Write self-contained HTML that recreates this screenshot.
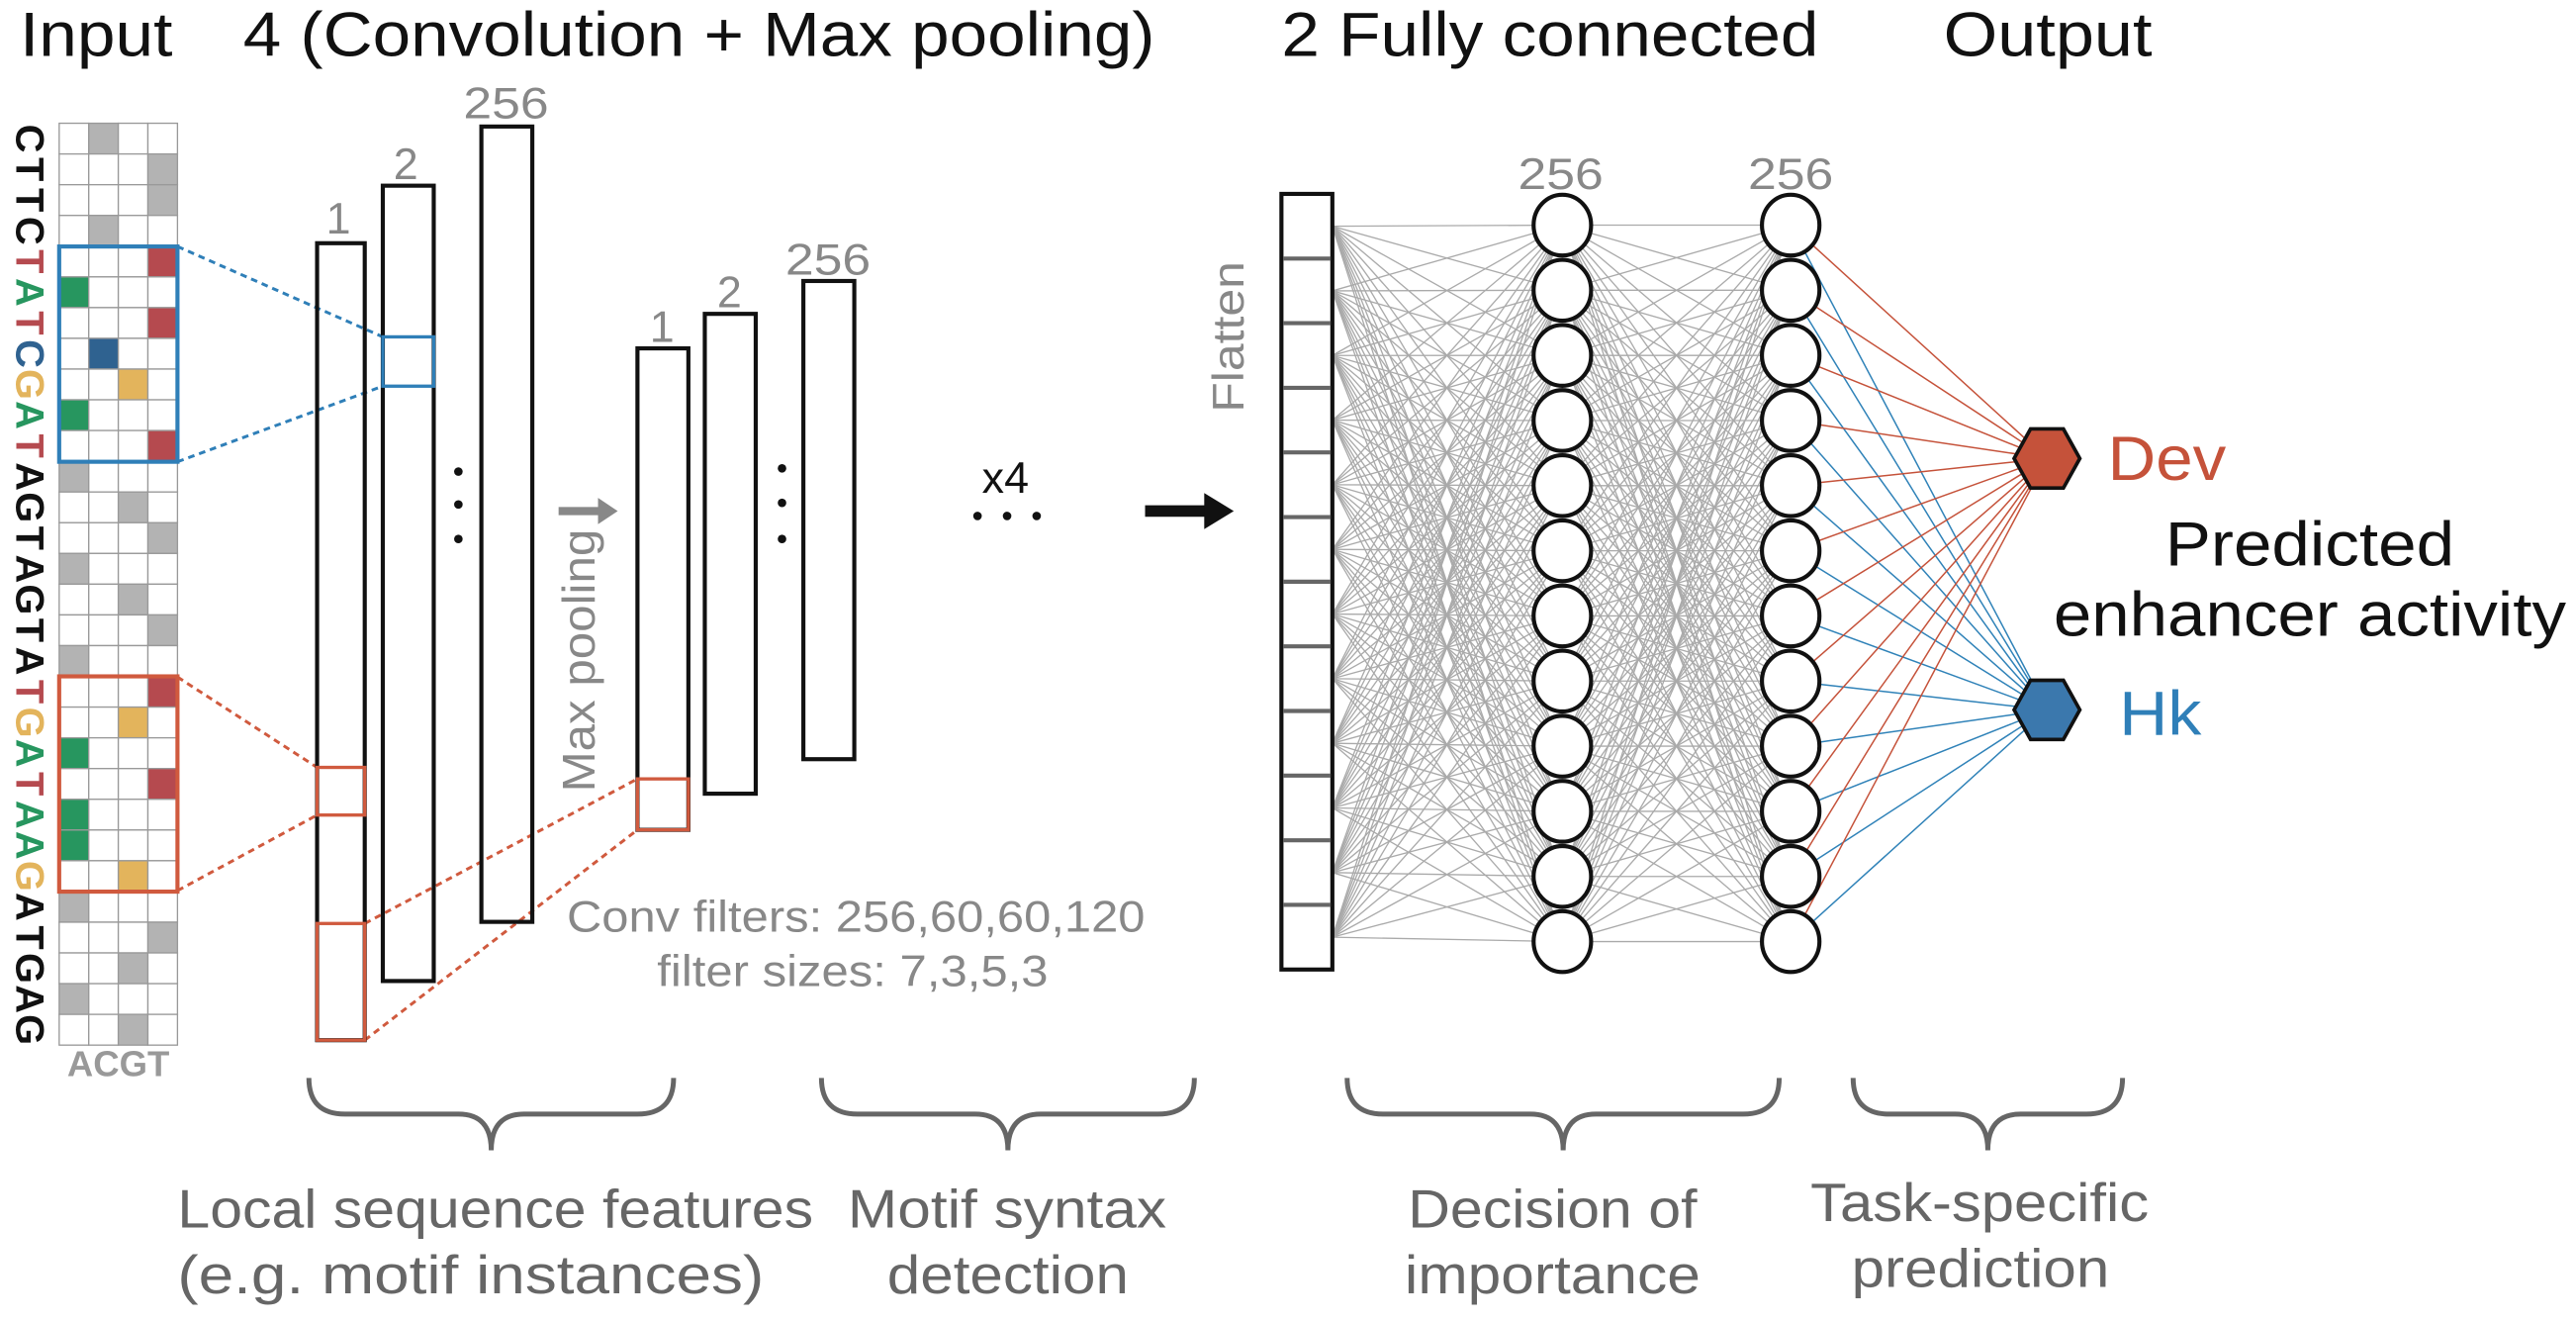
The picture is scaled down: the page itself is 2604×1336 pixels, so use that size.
<!DOCTYPE html>
<html><head><meta charset="utf-8"><style>
html,body{margin:0;padding:0;background:#fff}
svg{display:block}
text{font-family:"Liberation Sans",sans-serif}
</style></head><body>
<svg id="s" width="2604" height="1336" viewBox="0 0 1568 804.5" xmlns="http://www.w3.org/2000/svg">
<g id="lines"></g>
<g id="grid"></g>
<g font-size="38" fill="#111" lengthAdjust="spacingAndGlyphs">
<text x="12" y="34" textLength="93" lengthAdjust="spacingAndGlyphs">Input</text>
<text x="148" y="34" textLength="555" lengthAdjust="spacingAndGlyphs">4 (Convolution + Max pooling)</text>
<text x="780" y="34" textLength="327" lengthAdjust="spacingAndGlyphs">2 Fully connected</text>
<text x="1183" y="34" textLength="127" lengthAdjust="spacingAndGlyphs">Output</text>
</g>
<rect x="36" y="150" width="72" height="131" fill="none" stroke="#2f7fb8" stroke-width="2.5"/>
<rect x="36" y="411.6" width="72" height="131" fill="none" stroke="#d05a3e" stroke-width="2.5"/>
<g stroke-dasharray="4,3" stroke-width="1.8" fill="none">
<line x1="108" y1="150" x2="233" y2="205" stroke="#2f7fb8"/>
<line x1="108" y1="281" x2="233" y2="235" stroke="#2f7fb8"/>
<line x1="108" y1="412" x2="193" y2="467" stroke="#d05a3e"/>
<line x1="108" y1="542" x2="193" y2="496" stroke="#d05a3e"/>
<line x1="222" y1="562" x2="388" y2="474" stroke="#d05a3e"/>
<line x1="222" y1="633" x2="388" y2="505" stroke="#d05a3e"/>
</g>
<g fill="none" stroke="#111" stroke-width="2.5">
<rect x="193" y="148" width="29" height="485"/>
<rect x="233" y="113" width="31" height="484"/>
<rect x="293" y="77" width="31" height="484"/>
<rect x="388" y="212" width="31" height="293"/>
<rect x="429" y="191" width="31" height="292"/>
<rect x="489" y="171" width="31" height="291"/>
</g>
<rect x="233" y="205" width="31" height="30" fill="none" stroke="#2f7fb8" stroke-width="2"/>
<rect x="193" y="467" width="29" height="29" fill="none" stroke="#d05a3e" stroke-width="2"/>
<rect x="193" y="562" width="29" height="71" fill="none" stroke="#d05a3e" stroke-width="2"/>
<rect x="388" y="474" width="31" height="31" fill="none" stroke="#d05a3e" stroke-width="2"/>
<g font-size="27" fill="#888" text-anchor="middle">
<text x="206" y="142">1</text>
<text x="247" y="109">2</text>
<text x="308" y="72" textLength="52" lengthAdjust="spacingAndGlyphs">256</text>
<text x="403" y="208">1</text>
<text x="444" y="187">2</text>
<text x="504" y="167" textLength="52" lengthAdjust="spacingAndGlyphs">256</text>
<text x="950" y="115" textLength="52" lengthAdjust="spacingAndGlyphs">256</text>
<text x="1090" y="115" textLength="52" lengthAdjust="spacingAndGlyphs">256</text>
</g>
<g fill="#111">
<circle cx="279" cy="287" r="2.6"/><circle cx="279" cy="307" r="2.6"/><circle cx="279" cy="328" r="2.6"/>
<circle cx="476" cy="285" r="2.6"/><circle cx="476" cy="306" r="2.6"/><circle cx="476" cy="328" r="2.6"/>
<circle cx="595" cy="314" r="2.6"/><circle cx="613" cy="314" r="2.6"/><circle cx="631" cy="314" r="2.6"/>
</g>
<text x="612" y="300" font-size="27" fill="#111" text-anchor="middle">x4</text>
<text transform="translate(362,402) rotate(-90)" font-size="28" fill="#888" text-anchor="middle" textLength="160" lengthAdjust="spacingAndGlyphs">Max pooling</text>
<line x1="340" y1="311" x2="366" y2="311" stroke="#888" stroke-width="5"/>
<polygon points="364,303 376,311 364,319" fill="#888"/>
<line x1="697" y1="311" x2="736" y2="311" stroke="#111" stroke-width="7"/>
<polygon points="733,300 751,311 733,322" fill="#111"/>
<g font-size="27" fill="#888">
<text x="345" y="567" textLength="352" lengthAdjust="spacingAndGlyphs">Conv filters: 256,60,60,120</text>
<text x="400" y="600" textLength="238" lengthAdjust="spacingAndGlyphs">filter sizes: 7,3,5,3</text>
</g>
<text transform="translate(757,205) rotate(-90)" font-size="27" fill="#888" text-anchor="middle" textLength="92" lengthAdjust="spacingAndGlyphs">Flatten</text>
<g id="flat"></g>
<g id="nodes"></g>
<polygon points="1226,279 1236,261 1256,261 1266,279 1256,297 1236,297" fill="#c5523a" stroke="#111" stroke-width="2.2"/>
<polygon points="1226,432 1236,414 1256,414 1266,432 1256,450 1236,450" fill="#3b78ad" stroke="#111" stroke-width="2.2"/>
<text x="1283" y="292" font-size="38" fill="#c5523a" textLength="72" lengthAdjust="spacingAndGlyphs">Dev</text>
<text x="1290" y="447" font-size="38" fill="#2f7fb8" textLength="50" lengthAdjust="spacingAndGlyphs">Hk</text>
<g font-size="38" fill="#111">
<text x="1318" y="344" textLength="176" lengthAdjust="spacingAndGlyphs">Predicted</text>
<text x="1250" y="387" textLength="312" lengthAdjust="spacingAndGlyphs">enhancer activity</text>
</g>
<g fill="none" stroke="#666" stroke-width="3" id="braces"></g>
<g font-size="33" fill="#666">
<text x="108" y="747" textLength="387" lengthAdjust="spacingAndGlyphs">Local sequence features</text>
<text x="108" y="787" textLength="357" lengthAdjust="spacingAndGlyphs">(e.g. motif instances)</text>
<text x="516" y="747" textLength="194" lengthAdjust="spacingAndGlyphs">Motif syntax</text>
<text x="540" y="787" textLength="147" lengthAdjust="spacingAndGlyphs">detection</text>
<text x="857" y="747" textLength="176" lengthAdjust="spacingAndGlyphs">Decision of</text>
<text x="855" y="787" textLength="180" lengthAdjust="spacingAndGlyphs">importance</text>
<text x="1102" y="743" textLength="206" lengthAdjust="spacingAndGlyphs">Task-specific</text>
<text x="1127" y="783" textLength="157" lengthAdjust="spacingAndGlyphs">prediction</text>
</g>
</svg>
<script>
var NS="http://www.w3.org/2000/svg";
function el(p,t,a){var e=document.createElementNS(NS,t);for(var k in a)e.setAttribute(k,a[k]);p.appendChild(e);return e;}
var grid=document.getElementById('grid');
var seq="CTTCTATCGATAGTAGTATGATAAGATGAG".split("");
var idx={A:0,C:1,G:2,T:3};
var col={A:"#27965f",C:"#2f6290",G:"#e3b45c",T:"#b54a4f"};
var rh=561/30;
for(var i=0;i<30;i++){
 var L=seq[i];var colored=(i>=4&&i<=10)||(i>=18&&i<=24);
 for(var j=0;j<4;j++){
  var f="#fff";if(j==idx[L])f=colored?col[L]:"#b3b3b3";
  el(grid,'rect',{x:36+j*18,y:75+i*rh,width:18,height:rh,fill:f,stroke:"#999","stroke-width":0.8});
 }
 var t=el(grid,'text',{transform:"translate(10,"+(75+i*rh+rh/2)+") rotate(90)","font-size":"24","font-weight":"bold","font-family":"Liberation Mono, monospace",fill:colored?col[L]:"#111","text-anchor":"middle"});
 t.textContent=L;
}
var ax=el(grid,'text',{x:72,y:655,"font-size":"22","font-weight":"bold","font-family":"Liberation Mono, monospace",fill:"#999","text-anchor":"middle"});ax.textContent="ACGT";
var flat=document.getElementById('flat');var fh=(590-118)/12;
el(flat,'rect',{x:780,y:118,width:31,height:472,fill:"#fff",stroke:"#111","stroke-width":2.5});
for(var i=1;i<12;i++)el(flat,'line',{x1:781,x2:810,y1:118+i*fh,y2:118+i*fh,stroke:"#666","stroke-width":2.5});
var lines=document.getElementById('lines');var nodes=document.getElementById('nodes');
var ny=[];for(var i=0;i<12;i++)ny.push(137+i*(573-137)/11);
for(var i=0;i<12;i++){var fy=118+fh/2+i*fh;for(var k=0;k<12;k++){
 el(lines,'line',{x1:811,y1:fy,x2:951,y2:ny[k],stroke:"#aaa","stroke-width":0.8});
 el(lines,'line',{x1:951,y1:ny[i],x2:1090,y2:ny[k],stroke:"#aaa","stroke-width":0.8});}
 el(lines,'line',{x1:1090,y1:ny[i],x2:1246,y2:279,stroke:"#c5523a","stroke-width":0.9});
 el(lines,'line',{x1:1090,y1:ny[i],x2:1246,y2:432,stroke:"#2f82b8","stroke-width":0.9});
}
for(var i=0;i<12;i++){el(nodes,'ellipse',{cx:951,cy:ny[i],rx:17.5,ry:18.5,fill:"#fff",stroke:"#111","stroke-width":2.5});
 el(nodes,'ellipse',{cx:1090,cy:ny[i],rx:17.5,ry:18.5,fill:"#fff",stroke:"#111","stroke-width":2.5});}
var br=document.getElementById('braces');
[[188,410],[500,727],[820,1083],[1128,1292]].forEach(function(b){
 var a=b[0],c=b[1],m=(a+c)/2,y0=656,y1=678,y2=700;
 el(br,'path',{d:"M"+a+","+y0+" Q"+a+","+y1+" "+(a+22)+","+y1+" L"+(m-20)+","+y1+" Q"+m+","+y1+" "+m+","+y2+" Q"+m+","+y1+" "+(m+20)+","+y1+" L"+(c-22)+","+y1+" Q"+c+","+y1+" "+c+","+y0});
});
</script>
</body></html>
